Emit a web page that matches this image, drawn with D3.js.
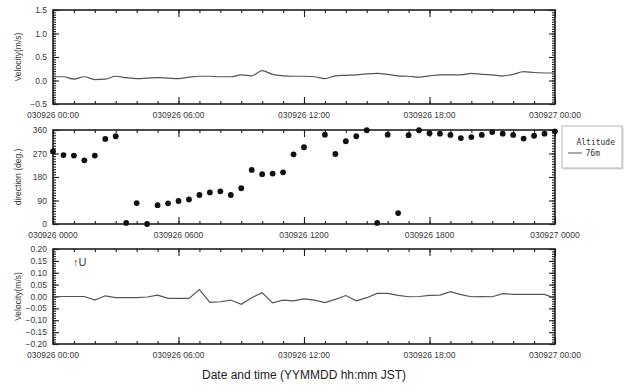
<!DOCTYPE html>
<html>
<head>
<meta charset="utf-8">
<script src="https://cdn.jsdelivr.net/npm/d3@7/dist/d3.min.js"></script>
<style>
  html, body { margin: 0; padding: 0; background: #fff; }
  svg { display: block; font-family: "Liberation Sans", Arial, sans-serif; }
</style>
</head>
<body>
<div id="chart"></div>
<script>
// Hours since 030926 00:00 JST, half-hourly samples
const hours = d3.range(0, 24.5, 0.5);

// Horizontal wind speed (m/s), top panel
const speedValues = [
  0.08, 0.08, 0.03, 0.08, 0.02, 0.03, 0.09, 0.06, 0.04, 0.05, 0.06, 0.05,
  0.04, 0.07, 0.09, 0.09, 0.08, 0.08, 0.12, 0.10, 0.21, 0.13, 0.10, 0.09,
  0.09, 0.08, 0.04, 0.10, 0.11, 0.12, 0.14, 0.15, 0.13, 0.10, 0.09, 0.07,
  0.10, 0.12, 0.12, 0.12, 0.15, 0.13, 0.12, 0.10, 0.13, 0.19, 0.17, 0.16,
  0.16
];

// Wind direction (deg.), middle panel; null = missing sample
const directionValues = [
  278, 264, 262, 244, 262, 326, 336, 4, 80, 0, 72, 79,
  88, 94, 111, 121, 125, 111, 137, 207, 191, 193, 198, 267,
  294, null, 342, 268, 317, 336, 359, 4, 342, 42, 340, 359,
  348, 346, 341, 329, 333, 341, 352, 346, 341, 327, 338, 346,
  355
];

// Vertical wind (m/s), bottom panel
const verticalValues = [
  0.000, 0.000, 0.000, 0.000, -0.015, 0.003, -0.005, -0.005, -0.005, -0.002, 0.006, -0.008,
  -0.008, -0.008, 0.029, -0.025, -0.022, -0.015, -0.033, -0.005, 0.016, -0.027, -0.015, -0.018,
  -0.010, -0.015, -0.026, -0.012, 0.004, -0.018, -0.005, 0.013, 0.013, 0.005, -0.001, 0.000,
  0.005, 0.006, 0.020, 0.008, -0.001, 0.000, -0.001, 0.012, 0.009, 0.009, 0.009, 0.009,
  -0.008
];

const speedTicks = [-0.5, 0, 0.5, 1.0, 1.5];
const directionTicks = [0, 90, 180, 270, 360];
const verticalTicks = [-0.20, -0.15, -0.10, -0.05, 0.00, 0.05, 0.10, 0.15, 0.20];
const timeTickHours = [0, 6, 12, 18, 24];

const legendTitle = 'Altitude';
const legendLabel = '76m';

// Layout knobs
const width = 628;
const height = 392;
const plotLeft = 53;
const plotRight = 555;
const frameColor = '#1e1e1e';
const textColor = '#3a3a3a';
const lineColor = '#555';

const start = new Date(2003, 8, 26, 0, 0);
const toDate = (h) => new Date(start.getTime() + h * 3600 * 1000);

const x = d3.scaleTime()
  .domain([toDate(0), toDate(24)])
  .range([plotLeft, plotRight]);

const svg = d3.select('#chart')
  .append('svg')
  .attr('width', width)
  .attr('height', height)
  .attr('viewBox', `0 0 ${width} ${height}`);

function drawPanel({ top, bottom, domain, ticks, minorStep, tickFormat, timeFormat, title }) {
  const y = d3.scaleLinear().domain(domain).range([bottom, top]);
  const g = svg.append('g');

  const minor = d3.range(domain[0], domain[1] + minorStep / 2, minorStep);
  const hourTicks = d3.range(0, 25).map(toDate);
  const majorTimes = timeTickHours.map(toDate);

  /* Y axis, left and right, ticks pointing inward */
  g.append('g')
    .attr('transform', `translate(${plotLeft},0)`)
    .call(d3.axisRight(y).tickValues(minor).tickSize(3).tickFormat(''));
  g.append('g')
    .attr('transform', `translate(${plotLeft},0)`)
    .call(d3.axisRight(y).tickValues(ticks).tickSize(6).tickFormat(''));
  g.append('g')
    .attr('transform', `translate(${plotRight},0)`)
    .call(d3.axisLeft(y).tickValues(minor).tickSize(3).tickFormat(''));
  g.append('g')
    .attr('transform', `translate(${plotRight},0)`)
    .call(d3.axisLeft(y).tickValues(ticks).tickSize(6).tickFormat(''));

  /* X axis, top and bottom: hourly minor ticks, 6-hour majors */
  g.append('g')
    .attr('transform', `translate(0,${bottom})`)
    .call(d3.axisTop(x).tickValues(hourTicks).tickSize(3).tickFormat(''));
  g.append('g')
    .attr('transform', `translate(0,${bottom})`)
    .call(d3.axisTop(x).tickValues(majorTimes).tickSize(7).tickFormat(''));
  g.append('g')
    .attr('transform', `translate(0,${top})`)
    .call(d3.axisBottom(x).tickValues(hourTicks).tickSize(3).tickFormat(''));
  g.append('g')
    .attr('transform', `translate(0,${top})`)
    .call(d3.axisBottom(x).tickValues(majorTimes).tickSize(7).tickFormat(''));

  g.selectAll('.domain').remove();
  g.selectAll('.tick line').attr('stroke', frameColor).attr('stroke-width', 1.1);

  /* Frame */
  g.append('rect')
    .attr('x', plotLeft)
    .attr('y', top)
    .attr('width', plotRight - plotLeft)
    .attr('height', bottom - top)
    .attr('fill', 'none')
    .attr('stroke', frameColor)
    .attr('stroke-width', 1.6);

  /* Tick labels */
  g.selectAll('text.ylab')
    .data(ticks)
    .join('text')
    .attr('class', 'ylab')
    .attr('x', plotLeft - 6)
    .attr('y', (d) => y(d) + 3)
    .attr('text-anchor', 'end')
    .attr('font-size', 8.5)
    .attr('fill', textColor)
    .text(tickFormat);

  g.selectAll('text.xlab')
    .data(majorTimes)
    .join('text')
    .attr('class', 'xlab')
    .attr('x', (d) => x(d))
    .attr('y', bottom + 14)
    .attr('text-anchor', 'middle')
    .attr('font-size', 8.5)
    .attr('fill', textColor)
    .text(d3.timeFormat(timeFormat));

  g.append('text')
    .attr('transform', `translate(21,${(top + bottom) / 2}) rotate(-90)`)
    .attr('text-anchor', 'middle')
    .attr('font-size', 8.5)
    .attr('fill', textColor)
    .text(title);

  return { g, y };
}

/* Top: wind speed */
const speedPanel = drawPanel({
  top: 10, bottom: 104,
  domain: [-0.5, 1.5], ticks: speedTicks, minorStep: 0.05,
  tickFormat: d3.format('.1f'), timeFormat: '%y%m%d %H:%M',
  title: 'Velocity(m/s)'
});

speedPanel.g.append('path')
  .datum(hours.map((h, i) => ({ t: toDate(h), v: speedValues[i] })))
  .attr('fill', 'none')
  .attr('stroke', lineColor)
  .attr('stroke-width', 1.2)
  .attr('d', d3.line().x((d) => x(d.t)).y((d) => speedPanel.y(d.v)).curve(d3.curveMonotoneX));

/* Middle: wind direction */
const directionPanel = drawPanel({
  top: 130, bottom: 224,
  domain: [0, 360], ticks: directionTicks, minorStep: 10,
  tickFormat: d3.format('d'), timeFormat: '%y%m%d %H%M',
  title: 'direction (deg.)'
});

directionPanel.g.selectAll('circle')
  .data(hours.map((h, i) => ({ t: toDate(h), v: directionValues[i] })).filter((d) => d.v !== null))
  .join('circle')
  .attr('cx', (d) => x(d.t))
  .attr('cy', (d) => directionPanel.y(d.v))
  .attr('r', 2.9)
  .attr('fill', '#111');

/* Bottom: vertical wind */
const verticalPanel = drawPanel({
  top: 249, bottom: 344,
  domain: [-0.2, 0.2], ticks: verticalTicks, minorStep: 0.01,
  tickFormat: d3.format('.2f'), timeFormat: '%y%m%d %H:%M',
  title: 'Velocity(m/s)'
});

verticalPanel.g.append('path')
  .datum(hours.map((h, i) => ({ t: toDate(h), v: verticalValues[i] })))
  .attr('fill', 'none')
  .attr('stroke', lineColor)
  .attr('stroke-width', 1.2)
  .attr('d', d3.line().x((d) => x(d.t)).y((d) => verticalPanel.y(d.v)));

verticalPanel.g.append('text')
  .attr('x', 73)
  .attr('y', 266)
  .attr('font-size', 11)
  .attr('fill', textColor)
  .text('↑U');

/* X axis title */
svg.append('text')
  .attr('x', 304)
  .attr('y', 379)
  .attr('text-anchor', 'middle')
  .attr('font-size', 12)
  .attr('fill', '#222')
  .text('Date and time (YYMMDD hh:mm JST)');

/* Legend */
const legend = svg.append('g').attr('transform', 'translate(562,126)');

legend.append('rect')
  .attr('x', 1.5).attr('y', 1.5)
  .attr('width', 60).attr('height', 42)
  .attr('fill', '#d8d8d8');

legend.append('rect')
  .attr('width', 60).attr('height', 42)
  .attr('fill', '#fff')
  .attr('stroke', '#b5b5b5')
  .attr('stroke-width', 1);

legend.append('text')
  .attr('x', 53).attr('y', 19)
  .attr('text-anchor', 'end')
  .attr('font-family', '"DejaVu Sans Mono", monospace')
  .attr('font-size', 8)
  .attr('fill', '#333')
  .text(legendTitle);

legend.append('line')
  .attr('x1', 6).attr('x2', 20)
  .attr('y1', 27).attr('y2', 27)
  .attr('stroke', lineColor)
  .attr('stroke-width', 1);

legend.append('text')
  .attr('x', 38).attr('y', 30)
  .attr('text-anchor', 'end')
  .attr('font-family', '"DejaVu Sans Mono", monospace')
  .attr('font-size', 8)
  .attr('fill', '#333')
  .text(legendLabel);
</script>
</body>
</html>
